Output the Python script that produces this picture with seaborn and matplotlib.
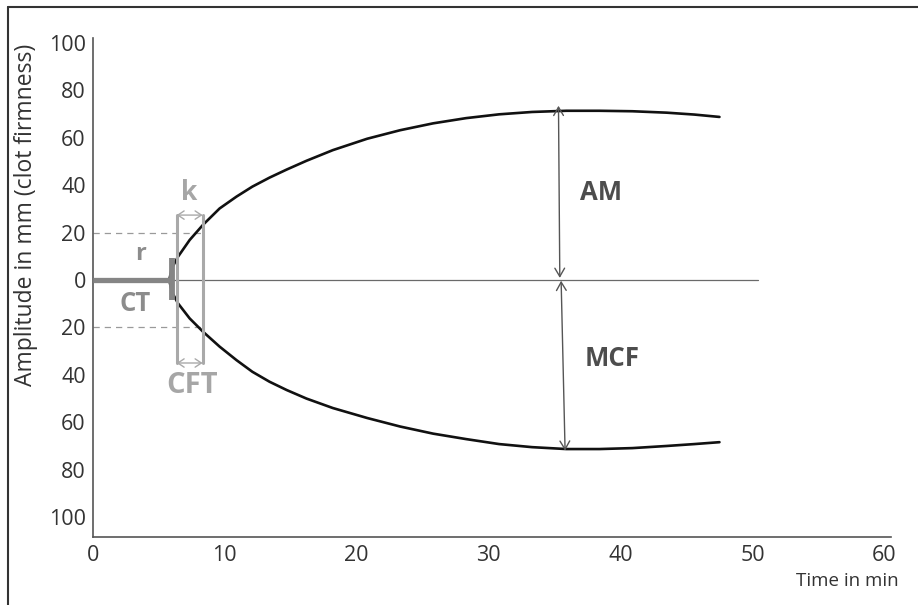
import numpy as np
import pandas as pd
import matplotlib
matplotlib.use("Agg")
import matplotlib.pyplot as plt
from matplotlib.lines import Line2D
import seaborn as sns

# ---- data ----
time = [5.8, 6.0, 6.46, 7.35, 8.36, 9.62, 10.9, 12.1, 13.4, 14.7, 16.2, 18.2,
        20.8, 23.3, 25.8, 28.3, 30.8, 33.3, 35.9, 38.4, 40.9, 43.5, 45.6, 47.5]
upper = [0, 5, 9.8, 16.9, 23.3, 30.2, 35.2, 39.4, 43.2, 46.6, 50.3, 54.8,
         59.6, 63.2, 66.1, 68.3, 69.9, 70.9, 71.4, 71.4, 71.2, 70.6, 69.8, 68.8]
lower = [0, -5, -9.8, -16.2, -21.8, -28.1, -33.8, -38.7, -42.9, -46.4, -50.0, -54,
         -58.2, -61.8, -64.8, -67.1, -69.2, -70.5, -71.3, -71.3, -70.9, -70, -69.2, -68.4]
x_ticks = [0, 10, 20, 30, 40, 50, 60]
y_ticks = [-100, -80, -60, -40, -20, 0, 20, 40, 60, 80, 100]
y_ticklabels = [str(abs(v)) for v in y_ticks]

ct_time = 6.0          # clotting time (r)
k_start, k_end = 6.36, 8.33
amp20 = 20
am_time = 35.4

sns.set_style("white")
plt.rcParams["font.family"] = ["Open Sans", "DejaVu Sans"]

W, H = 918, 605
fig = plt.figure(figsize=(W / 100, H / 100), dpi=100)
ax = fig.add_axes([92.7 / W, 1 - 537 / H, (891 - 92.7) / W, (537 - 38) / H])

df = pd.DataFrame({
    "time": time + time,
    "amp": upper + lower,
    "side": ["upper"] * len(time) + ["lower"] * len(time),
})
sns.lineplot(data=df, x="time", y="amp", units="side", estimator=None,
             sort=False, color="#111111", lw=1.9, ax=ax, legend=False)
for ln in ax.lines:
    ln.set_solid_joinstyle("round")
    ln.set_solid_capstyle("round")

# zero baseline
ax.plot([ct_time, 50.4], [0, 0], color="#6a6a6a", lw=0.9, zorder=1)

# CT thick line + bar
ax.plot([0, ct_time], [0, 0], color="#858585", lw=3.8, solid_capstyle="butt", zorder=3)
ax.plot([ct_time, ct_time], [-8.4, 9.3], color="#858585", lw=4.2, solid_capstyle="butt", zorder=3)

# k / CFT vertical lines
kc = "#a9a9a9"
ax.plot([k_start, k_start], [-35, 27.4], color=kc, lw=2.2, zorder=2)
ax.plot([k_end, k_end], [-35, 27.4], color=kc, lw=2.2, zorder=2)
for yy in (27.4, -35):
    ax.annotate("", xy=(k_start, yy), xytext=(k_end, yy),
                arrowprops=dict(arrowstyle="<->,head_length=0.45,head_width=0.3",
                                color=kc, lw=1.0, shrinkA=0, shrinkB=0))

# dashed 20 mm lines
for yy in (amp20, -amp20):
    ax.plot([0, k_end], [yy, yy], color="#9a9a9a", lw=0.9, ls=(0, (5, 4)), zorder=1)

# AM / MCF arrows
ac = "#555555"
ax.annotate("", xy=(am_time - 0.1, 73.5), xytext=(am_time, 0.9),
            arrowprops=dict(arrowstyle="<->,head_length=0.6,head_width=0.35",
                            color=ac, lw=1.0, shrinkA=0, shrinkB=0))
ax.annotate("", xy=(am_time + 0.4, -72), xytext=(am_time + 0.1, -0.3),
            arrowprops=dict(arrowstyle="<->,head_length=0.6,head_width=0.35",
                            color=ac, lw=1.0, shrinkA=0, shrinkB=0))

# annotation labels
ax.text(38.5, 36.8, "AM", fontsize=18.5, fontweight="bold", color="#4d4d4d",
        ha="center", va="center")
ax.text(39.4, -33.3, "MCF", fontsize=18.5, fontweight="bold", color="#4d4d4d",
        ha="center", va="center")
ax.text(7.35, 37, "k", fontsize=19, fontweight="bold", color="#a6a6a6",
        ha="center", va="center")
ax.text(7.5, -44.7, "CFT", fontsize=21, fontweight="bold", color="#a6a6a6",
        ha="center", va="center")
ax.text(3.6, 11, "r", fontsize=17, fontweight="bold", color="#8c8c8c",
        ha="center", va="center")
ax.text(3.2, -9.8, "CT", fontsize=18.5, fontweight="bold", color="#8c8c8c",
        ha="center", va="center")

# axes styling
ax.set_xlim(0, 60.5)
ax.set_ylim(-108.4, 102.1)
ax.set_xticks(x_ticks)
ax.set_xticklabels([str(v) for v in x_ticks])
ax.set_yticks(y_ticks)
ax.set_yticklabels(y_ticklabels)
ax.tick_params(length=0, labelsize=15.5, colors="#333333")
ax.tick_params(axis="y", pad=5)
ax.tick_params(axis="x", pad=6)
for s in ("top", "right"):
    ax.spines[s].set_visible(False)
for s in ("left", "bottom"):
    ax.spines[s].set_color("#555555")
    ax.spines[s].set_linewidth(1.2)

ax.set_xlabel("")
ax.set_ylabel("Amplitude in mm (clot firmness)", fontsize=16.5, color="#333333")
ax.yaxis.set_label_coords((38 - 92.7) / (891 - 92.7), (537 - 215) / (537 - 38))
ax.text((899 - 92.7) / (891 - 92.7), -(581 - 537) / (537 - 38), "Time in min",
        transform=ax.transAxes, ha="right", va="center", fontsize=13.5, color="#333333")

# outer frame (top and left edges visible)
fig.add_artist(Line2D([8 / W, 8 / W], [0, 1 - 7 / H], transform=fig.transFigure,
                      color="#333333", lw=1.5))
fig.add_artist(Line2D([8 / W, 1], [1 - 7 / H, 1 - 7 / H], transform=fig.transFigure,
                      color="#333333", lw=1.5))

fig.savefig("out.png", dpi=100)
